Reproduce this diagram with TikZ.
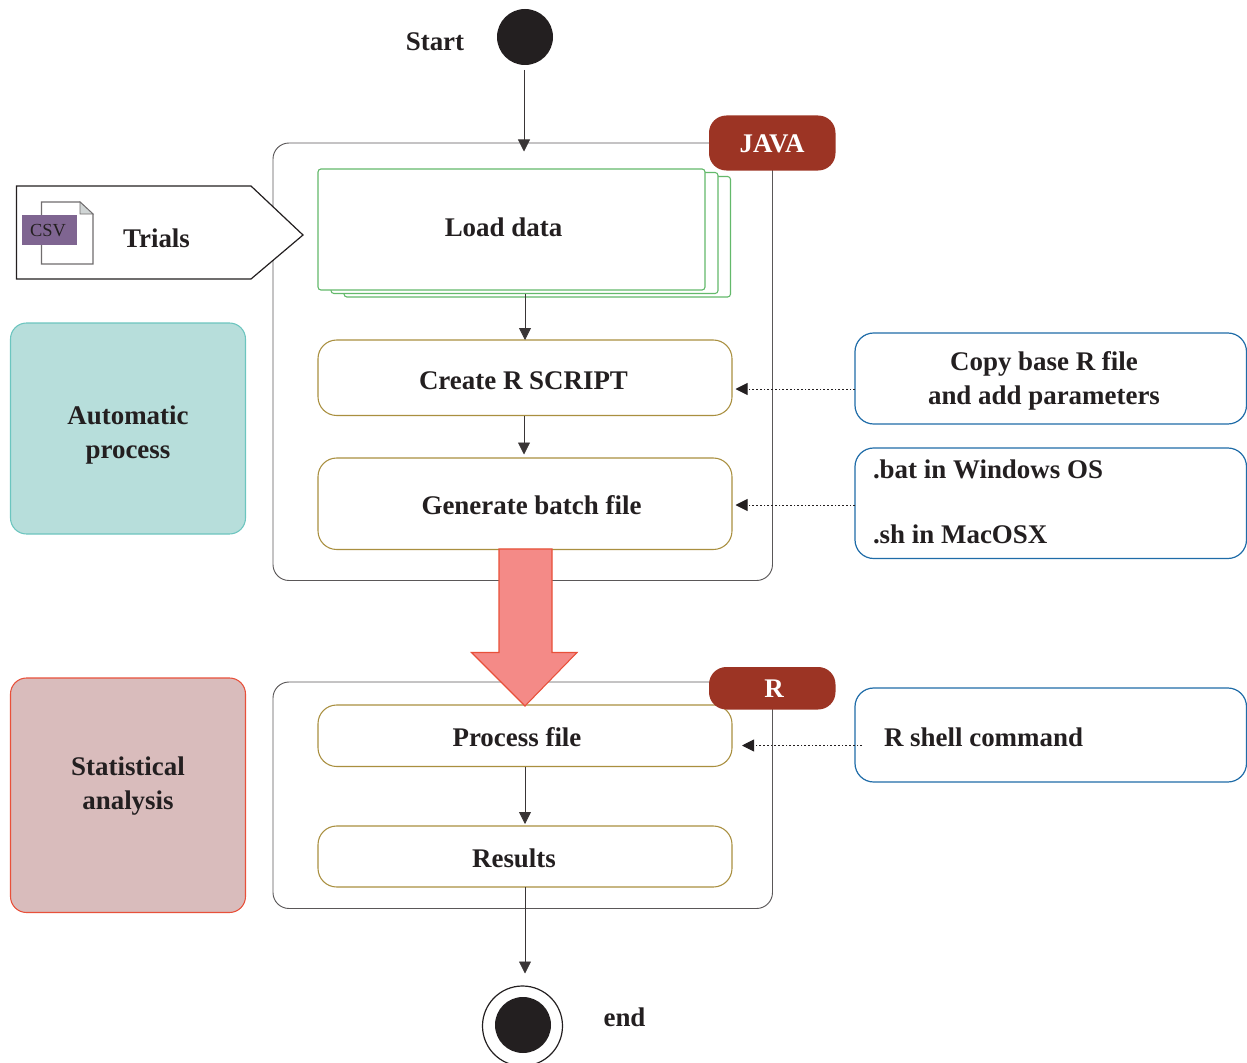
\documentclass[tikz,border=0pt]{standalone}
\usepackage{fontspec}
\setmainfont{Liberation Serif}
\usetikzlibrary{arrows.meta,calc}
\definecolor{ink}{HTML}{231F20}
\definecolor{gold}{HTML}{A98F3F}
\definecolor{leaf}{HTML}{63B96B}
\definecolor{navy}{HTML}{1F6CA8}
\definecolor{brick}{HTML}{9C3424}
\definecolor{teal}{HTML}{B7DEDB}
\definecolor{tealedge}{HTML}{6CC5BF}
\definecolor{dusty}{HTML}{D9BCBC}
\definecolor{redge}{HTML}{E8503A}
\definecolor{salmon}{HTML}{F48A87}
\definecolor{plum}{HTML}{7F6591}
\definecolor{foldgray}{HTML}{D0D5D5}
\tikzset{
  x=0.75pt,y=-0.75pt,
  pbox/.style={rectangle,inner sep=0pt,outer sep=0pt},
  frame/.style={draw=ink!75,line width=0.7pt,rounded corners=12pt,fill=white},
  stack/.style={draw=leaf,line width=0.8pt,rounded corners=2.2pt,fill=white},
  stage/.style={draw=gold,line width=0.8pt,rounded corners=14pt,fill=white},
  note/.style={draw=navy,line width=0.9pt,rounded corners=14pt,fill=white},
  badge/.style={fill=brick,rounded corners=13pt},
  lane/.style={line width=0.8pt,rounded corners=12pt},
  txt/.style={font=\fontsize{20.2}{25.5}\selectfont\bfseries,text=ink,inner sep=0pt,outer sep=0pt,align=center},
  flow/.style={draw=ink!90,line width=0.6pt,-{Triangle[length=9pt,width=9pt]}},
  hint/.style={draw=ink,line width=0.7pt,dash pattern=on 1.3pt off 1.5pt,-{Triangle[length=9pt,width=9pt]}},
}
\newcommand{\pxbox}[6]{%
  \pgfmathsetmacro\bw{(#4-#2)*0.75}\pgfmathsetmacro\bh{(#5-#3)*0.75}%
  \pgfmathsetmacro\bx{(#2+#4)/2}\pgfmathsetmacro\by{(#3+#5)/2}%
  \node[pbox,#6,minimum width=\bw pt,minimum height=\bh pt] (#1) at (\bx,\by) {};}
\begin{document}
\begin{tikzpicture}
\useasboundingbox (0,0) rectangle (1247,1063);
% containers
\pxbox{javaframe}{273}{143}{772.5}{580.5}{frame}
\pxbox{rframe}{273}{682}{772.5}{908.5}{frame}
% side lanes
\pxbox{autolane}{10.5}{323}{245.5}{534}{lane,fill=teal,draw=tealedge}
\pxbox{statlane}{10.5}{678}{245.5}{912.5}{lane,fill=dusty,draw=redge}
\node[txt,anchor=center] (autotext) at (128,435) {Automatic\\process};
\node[txt,anchor=center] (stattext) at (128,786) {Statistical\\analysis};
% start
\node[circle,fill=ink,minimum size=42pt,inner sep=0pt] (start) at (525,37) {};
\node[txt,anchor=base] (starttext) at (435,50.5) {Start};
% load data stack
\pxbox{loadback}{344}{176.5}{730.5}{297}{stack}
\pxbox{loadmid}{331}{172.5}{718}{293.5}{stack}
\pxbox{load}{318}{169}{705}{290}{stack}
\node[txt,anchor=base] (loadtext) at (503.5,236) {Load data};
% stages
\pxbox{create}{318}{340}{732}{415.5}{stage}
\node[txt,anchor=base] (createtext) at (523.5,389) {Create R SCRIPT};
\pxbox{generate}{318}{458}{732}{549.5}{stage}
\node[txt,anchor=base] (generatetext) at (531.5,514) {Generate batch file};
\pxbox{process}{318}{705}{732}{766.5}{stage}
\node[txt,anchor=base] (processtext) at (517,746) {Process file};
\pxbox{results}{318}{826}{732}{887}{stage}
\node[txt,anchor=base] (resultstext) at (514,867) {Results};
% trials tag
\draw[draw=ink,line width=0.9pt,fill=white] (16.5,186) -- (251,186) -- (303,235) -- (251,279) -- (16.5,279) -- cycle;
\node[txt,anchor=base] (trialstext) at (156.5,247) {Trials};
\draw[draw=ink!65,line width=0.8pt,fill=white] (41.5,202) -- (80,202) -- (93,214) -- (93,264) -- (41.5,264) -- cycle;
\draw[draw=ink!65,line width=0.6pt,fill=foldgray] (80,202) -- (93,214) -- (80,214) -- cycle;
\pxbox{csvtag}{22}{215}{77}{245}{fill=plum}
\node[font=\fontsize{13.8}{18}\selectfont,text=ink,inner sep=0pt,anchor=base] (csvtext) at (48,236) {CSV};
% badges
\pxbox{javabadge}{709}{115.5}{835.5}{170.5}{badge}
\node[txt,text=white,anchor=base] (javatext) at (772,152) {JAVA};
\pxbox{rbadge}{709}{667}{835.5}{709.5}{badge}
\node[txt,text=white,anchor=base] (rtext) at (774,697) {R};
% notes
\pxbox{note1}{855}{333}{1246.5}{424}{note}
\node[txt,anchor=center] (note1text) at (1044,381) {Copy base R file\\and add parameters};
\pxbox{note2}{855}{448}{1246.5}{558.5}{note}
\node[txt,anchor=base west] (note2a) at (873,478) {.bat in Windows OS};
\node[txt,anchor=base west] (note2b) at (873,543) {.sh in MacOSX};
\pxbox{note3}{855}{688}{1246.5}{782}{note}
\node[txt,anchor=base west] (note3text) at (884,746) {R shell command};
% end
\node[circle,draw=ink,line width=0.9pt,fill=white,minimum size=60pt,inner sep=0pt] (endring) at (522.5,1026) {};
\node[circle,fill=ink,minimum size=42pt,inner sep=0pt] (enddot) at (523,1025) {};
\node[txt,anchor=base] (endtext) at (624.5,1026) {end};
% connector ends
\coordinate (startout) at (524,70);
\coordinate (javain) at (524,151.5);
\coordinate (loadout) at (525,294);
\coordinate (createout) at (524,415.5);
\coordinate (generatein) at (524,454.5);
\coordinate (endin) at (525,973.5);
\coordinate (resultsout) at (525,887);
\coordinate (resultsin) at (525,824);
\coordinate (processout) at (525,766.5);
\coordinate (h1a) at (855,389);
\coordinate (h1b) at (735.5,389);
\coordinate (h2a) at (855,505);
\coordinate (h2b) at (735.5,505);
\coordinate (h3a) at (862,745.5);
\coordinate (h3b) at (742,745.5);
% connectors
\draw[flow] (startout) -- (javain);
\draw[flow] (loadout) -- (create.north);
\draw[flow] (createout) -- (generatein);
\draw[flow] (processout) -- (resultsin);
\draw[flow] (resultsout) -- (endin);
\draw[hint] (h1a) -- (h1b);
\draw[hint] (h2a) -- (h2b);
\draw[hint] (h3a) -- (h3b);
% big arrow
\draw[draw=redge,line width=0.8pt,fill=salmon,line join=miter]
  (499,549) -- (552,549) -- (552,652.5) -- (577,652.5) -- (525,706) -- (471.5,652.5) -- (499,652.5) -- cycle;
\end{tikzpicture}
\end{document}
